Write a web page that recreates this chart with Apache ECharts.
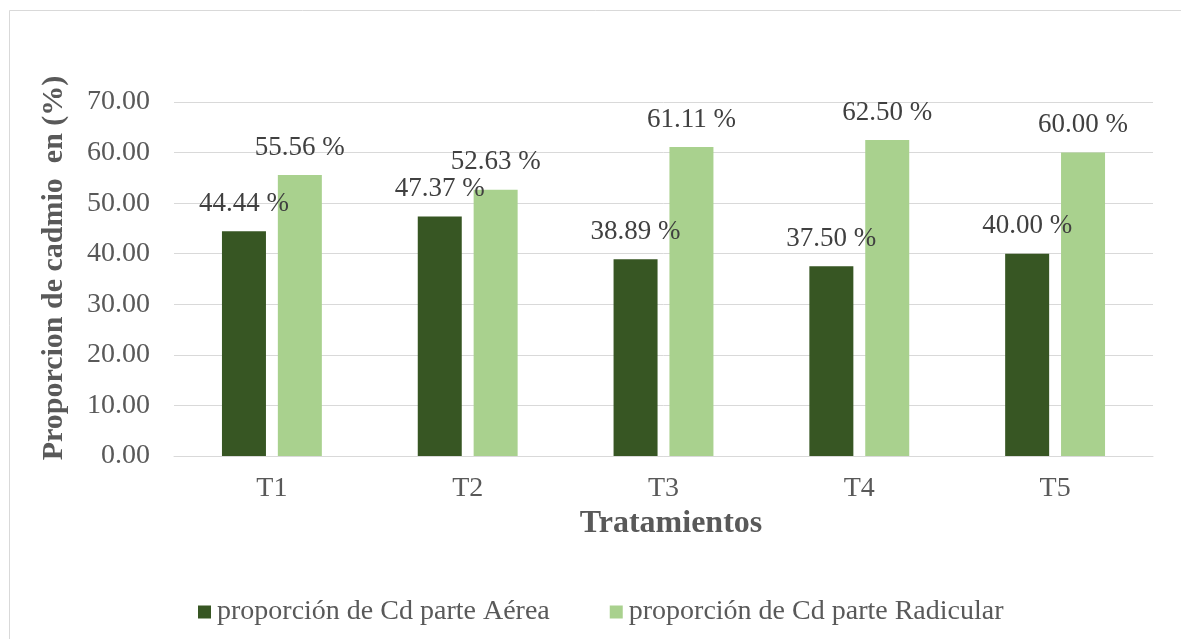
<!DOCTYPE html>
<html>
<head>
<meta charset="utf-8">
<script src="https://cdn.jsdelivr.net/npm/echarts@6/dist/echarts.min.js"></script>
<style>
html,body{margin:0;padding:0;background:#fff;}
#chart{width:1181px;height:639px;}
</style>
</head>
<body>
<div id="chart"></div>
<script>
var categories = ['T1', 'T2', 'T3', 'T4', 'T5'];
var aereaValues = [44.44, 47.37, 38.89, 37.50, 40.00];
var radicularValues = [55.56, 52.63, 61.11, 62.50, 60.00];
var seriesNames = ['proporción de Cd parte Aérea', 'proporción de Cd parte Radicular'];
var yAxisTitle = 'Proporcion de cadmio  en (%)';
var xAxisTitle = 'Tratamientos';

var FONT = '"Liberation Serif", "Times New Roman", serif';
var TXT = '#595959';

var chart = echarts.init(document.getElementById('chart'), null, {renderer: 'canvas'});
var labelCfg = {
  show: true,
  position: 'top',
  distance: 14,
  color: '#404040',
  fontFamily: FONT,
  fontSize: 27,
  formatter: function (p) { return p.value.toFixed(2) + ' %'; }
};
chart.setOption({
  animation: false,
  backgroundColor: '#ffffff',
  graphic: [{
    type: 'rect',
    shape: {x: 9.5, y: 10.5, width: 1200, height: 700},
    style: {fill: 'none', stroke: '#D9D9D9', lineWidth: 1},
    silent: true
  }, {
    type: 'text',
    x: 671,
    y: 524,
    silent: true,
    style: {
      text: xAxisTitle, fill: TXT, fontFamily: FONT, fontSize: 32, fontWeight: 'bold',
      align: 'center', verticalAlign: 'middle'
    }
  }, {
    type: 'text',
    x: 54,
    y: 268,
    rotation: Math.PI / 2,
    silent: true,
    style: {
      text: yAxisTitle, fill: TXT, fontFamily: FONT, fontSize: 30, fontWeight: 'bold',
      align: 'center', verticalAlign: 'middle'
    }
  }],
  grid: {left: 174, right: 28, top: 102, bottom: 183, containLabel: false},
  legend: {
    bottom: 8,
    left: 193,
    itemWidth: 13,
    itemHeight: 13,
    itemGap: 60,
    icon: 'rect',
    textStyle: {color: TXT, fontFamily: FONT, fontSize: 28, padding: [0, 0, 0, 1]},
    data: seriesNames
  },
  xAxis: {
    type: 'category',
    data: categories,
    axisLine: {show: true, lineStyle: {color: '#D9D9D9', width: 1}},
    axisTick: {show: false},
    axisLabel: {color: TXT, fontFamily: FONT, fontSize: 28, margin: 19}
  },
  yAxis: {
    type: 'value',
    min: 0,
    max: 70,
    interval: 10,
    axisLine: {show: false},
    axisTick: {show: false},
    splitLine: {lineStyle: {color: '#D9D9D9', width: 1}},
    axisLabel: {
      color: TXT, fontFamily: FONT, fontSize: 28, margin: 24,
      formatter: function (v) { return v.toFixed(2); }
    }
  },
  series: [
    {
      name: seriesNames[0],
      type: 'bar',
      data: aereaValues,
      barWidth: 44,
      barGap: '27%',
      itemStyle: {color: '#375623'},
      label: labelCfg
    },
    {
      name: seriesNames[1],
      type: 'bar',
      data: radicularValues,
      barWidth: 44,
      barGap: '27%',
      itemStyle: {color: '#A9D18E'},
      label: labelCfg
    }
  ]
});
</script>
</body>
</html>
